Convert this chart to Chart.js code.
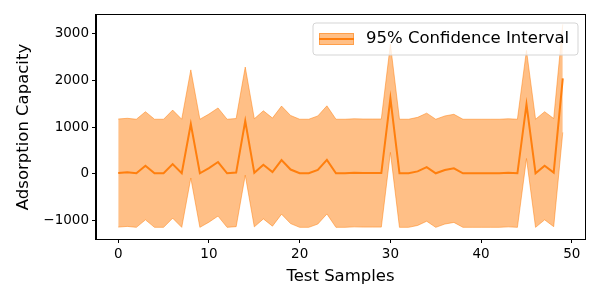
<!DOCTYPE html>
<html>
<head>
<title>Adsorption Capacity</title>
<script src="https://cdn.jsdelivr.net/npm/chart.js@4.4.1/dist/chart.umd.min.js"></script>
<style>
  body { margin: 0; background: #fff; }
  #wrap { width: 600px; height: 300px; }
</style>
</head>
<body>
<div id="wrap"><canvas id="myChart" width="600" height="300"></canvas></div>
<script>
// test sample index
const samples = [0,1,2,3,4,5,6,7,8,9,10,11,12,13,14,15,16,17,18,19,20,21,22,23,24,
                 25,26,27,28,29,30,31,32,33,34,35,36,37,38,39,40,41,42,43,44,45,46,47,48,49];
// predicted adsorption capacity (mean)
const meanVals = [20,35,15,175,15,15,210,15,1065,15,125,255,15,30,1125,25,195,40,295,95,
                  15,15,85,300,15,15,25,20,20,20,1610,15,15,55,145,15,85,120,15,15,
                  15,15,15,25,15,1480,15,175,30,2035];
// upper / lower bound of the 95% interval
const upperVals = [1170,1185,1165,1325,1165,1165,1360,1165,2215,1165,1275,1405,1165,1180,2275,1175,1345,1190,1445,1245,
                   1165,1165,1235,1450,1165,1165,1175,1170,1170,1170,2760,1165,1165,1205,1295,1165,1235,1270,1165,1165,
                   1165,1165,1165,1175,1165,2630,1165,1325,1180,3185];
const lowerVals = [-1130,-1115,-1135,-975,-1135,-1135,-940,-1135,-85,-1135,-1025,-895,-1135,-1120,-25,-1125,-955,-1110,-855,-1055,
                   -1135,-1135,-1065,-850,-1135,-1135,-1125,-1130,-1130,-1130,460,-1135,-1135,-1095,-1005,-1135,-1065,-1030,-1135,-1135,
                   -1135,-1135,-1135,-1125,-1135,330,-1135,-975,-1120,885];
const xTicks = [0,10,20,30,40,50];
const yTicks = [-1000,0,1000,2000,3000];
const legendText = '95% Confidence Interval';

const orange = '#ff7f0e';
const bandFill = 'rgba(255,127,14,0.5)';

function pts(vals) {
    return samples.map((s, i) => ({x: s, y: vals[i]}));
}

// draws the frame on all four sides and the legend box in the top right
const framePlugin = {
    id: 'framePlugin',
    afterDraw(chart) {
        const ctx = chart.ctx;
        const a = chart.chartArea;
        ctx.save();
        ctx.strokeStyle = '#000';
        ctx.lineWidth = 1;
        ctx.strokeRect(a.left - 0.5, a.top - 0.5, a.right - a.left + 1, a.bottom - a.top + 1);

        // legend
        const bx = 313, by = 23, bw = 265, bh = 32, r = 3;
        ctx.fillStyle = 'rgba(255,255,255,0.8)';
        ctx.strokeStyle = '#d5d5d5';
        ctx.beginPath();
        ctx.moveTo(bx + r, by);
        ctx.arcTo(bx + bw, by, bx + bw, by + bh, r);
        ctx.arcTo(bx + bw, by + bh, bx, by + bh, r);
        ctx.arcTo(bx, by + bh, bx, by, r);
        ctx.arcTo(bx, by, bx + bw, by, r);
        ctx.closePath();
        ctx.fill();
        ctx.stroke();

        ctx.fillStyle = bandFill;
        ctx.fillRect(319, 33, 35, 12);
        ctx.strokeStyle = bandFill;
        ctx.strokeRect(319.5, 33.5, 34, 11);
        ctx.strokeStyle = orange;
        ctx.lineWidth = 2;
        ctx.beginPath();
        ctx.moveTo(319, 39);
        ctx.lineTo(354, 39);
        ctx.stroke();

        ctx.fillStyle = '#000';
        ctx.font = '16.5px "DejaVu Sans"';
        ctx.textBaseline = 'middle';
        ctx.fillText(legendText, 366, 39);
        ctx.restore();
    }
};

new Chart('myChart', {
    type: 'line',
    data: {
        datasets: [
            {
                data: pts(upperVals),
                borderColor: bandFill,
                borderWidth: 1,
                backgroundColor: bandFill,
                fill: '+1',
                pointRadius: 0,
                tension: 0,
                order: 2
            },
            {
                data: pts(lowerVals),
                borderColor: bandFill,
                borderWidth: 1,
                backgroundColor: bandFill,
                fill: false,
                pointRadius: 0,
                tension: 0,
                order: 2
            },
            {
                data: pts(meanVals),
                borderColor: orange,
                borderWidth: 2,
                fill: false,
                pointRadius: 0,
                tension: 0,
                order: 1
            }
        ]
    },
    options: {
        responsive: false,
        animation: false,
        layout: { padding: { top: 15, right: 15, left: 0, bottom: 0 } },
        plugins: {
            legend: { display: false },
            tooltip: { enabled: false }
        },
        scales: {
            x: {
                type: 'linear',
                min: -2.45,
                max: 51.45,
                afterBuildTicks: (ax) => { ax.ticks = xTicks.map(v => ({value: v})); },
                afterFit: (ax) => { ax.height = 61; },
                grid: { drawOnChartArea: false, drawTicks: true, tickLength: 4, color: '#000' },
                border: { color: '#000' },
                ticks: { color: '#000', font: { family: 'DejaVu Sans', size: 13.5 }, padding: 3, maxRotation: 0,
                         callback: (v) => String(v) },
                title: { display: true, text: 'Test Samples', color: '#000',
                         font: { family: 'DejaVu Sans', size: 16.5 }, padding: { top: 2, bottom: 13 } }
            },
            y: {
                min: -1383,
                max: 3383,
                afterBuildTicks: (ax) => { ax.ticks = yTicks.map(v => ({value: v})); },
                afterFit: (ax) => { ax.width = 96; },
                grid: { drawOnChartArea: false, drawTicks: true, tickLength: 4, color: '#000' },
                border: { color: '#000' },
                ticks: { color: '#000', font: { family: 'DejaVu Sans', size: 13.5 }, padding: 3,
                         callback: (v) => String(v).replace('-', '\u2212') },
                title: { display: true, text: 'Adsorption Capacity', color: '#000',
                         font: { family: 'DejaVu Sans', size: 16.5 }, padding: { top: 14, bottom: 4 } }
            }
        }
    },
    plugins: [framePlugin]
});
</script>
</body>
</html>
